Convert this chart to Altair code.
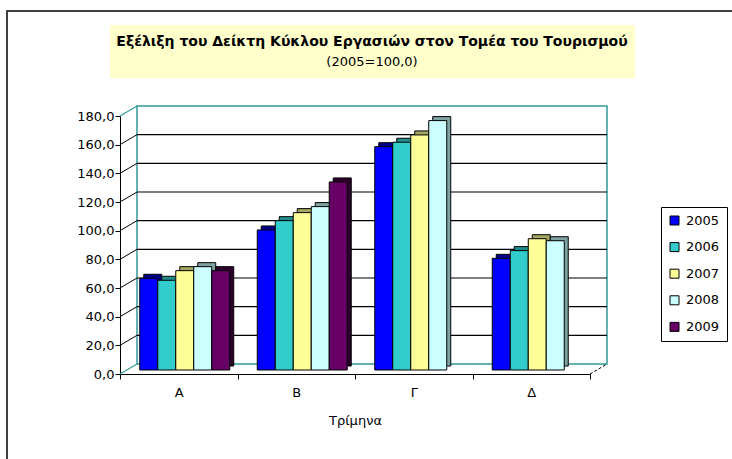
import altair as alt
import pandas as pd

quarters = ["Α", "Β", "Γ", "Δ"]
years = ["2005", "2006", "2007", "2008", "2009"]
v2005 = [64.0, 97.7, 155.8, 77.9]
v2006 = [62.6, 104.2, 158.9, 83.3]
v2007 = [69.3, 109.8, 164.0, 91.6]
v2008 = [72.1, 114.0, 174.0, 90.2]
v2009 = [69.3, 131.2, None, None]
y_ticks = [0, 20, 40, 60, 80, 100, 120, 140, 160, 180]

front_colors = ["#0000FF", "#33CCCC", "#FFFF99", "#CCFFFF", "#660066"]
shade_colors = ["#00008C", "#228C8C", "#A6A663", "#7FA3A3", "#2E002E"]

title1 = "Εξέλιξη του Δείκτη Κύκλου Εργασιών στον Τομέα του Τουρισμού"
title2 = "(2005=100,0)"
x_title = "Τρίμηνα"

FONT = "DejaVu Sans"
W, H = 470, 258
DX, DY = 17, -10
TEAL = "#339999"

rows = []
for yr, vals in zip(years, [v2005, v2006, v2007, v2008, v2009]):
    for q, v in zip(quarters, vals):
        if v is not None:
            rows.append({"q": q, "year": yr, "value": v})
df = pd.DataFrame(rows)
ticks_df = pd.DataFrame({"v": y_ticks})
one = alt.Data(values=[{"a": 1}])

# outer border
border = alt.Chart(one).mark_rect(fillOpacity=0, stroke="#404040", strokeWidth=2).encode(
    x=alt.value(-113), x2=alt.value(700), y=alt.value(-105), y2=alt.value(400))

# title box & text
tbox = alt.Chart(one).mark_rect(fill="#FFFFCC").encode(
    x=alt.value(-10), x2=alt.value(515), y=alt.value(-91), y2=alt.value(-38))
t1 = alt.Chart(one).mark_text(text=title1, font=FONT, fontWeight="bold", fontSize=14,
                              align="center", baseline="alphabetic", color="black").encode(
    x=alt.value(252), y=alt.value(-70))
t2 = alt.Chart(one).mark_text(text=title2, font=FONT, fontSize=13,
                              align="center", baseline="alphabetic", color="black").encode(
    x=alt.value(252), y=alt.value(-50))

yscale = alt.Scale(domain=[0, 180], range=[H, 0])

# back wall
wall = alt.Chart(one).mark_rect(fillOpacity=0, stroke=TEAL, strokeWidth=1.5).encode(
    x=alt.value(DX), x2=alt.value(W + DX), y=alt.value(DY), y2=alt.value(H + DY))

# gridlines on the back wall (with y axis)
grid_df = ticks_df[(ticks_df.v > 0) & (ticks_df.v < 180)]
grid = alt.Chart(grid_df).mark_rule(color="black", strokeWidth=1.2, yOffset=DY, y2Offset=DY).encode(
    x=alt.value(DX), x2=alt.value(W + DX),
    y=alt.Y("v:Q", scale=yscale,
            axis=alt.Axis(values=y_ticks, title=None, grid=False, tickSize=5,
                          domainColor="black", tickColor="black", labelColor="black",
                          labelFont=FONT, labelFontSize=13, labelPadding=1,
                          labelExpr="replace(format(datum.value, '.1f'), '.', ',')")),
    y2="v:Q")

diag_black = alt.Chart(grid_df).mark_rule(color="black", strokeWidth=1, y2Offset=DY).encode(
    x=alt.value(0), x2=alt.value(DX),
    y=alt.Y("v:Q", scale=yscale, axis=None), y2="v:Q")
diag_teal = alt.Chart(ticks_df[(ticks_df.v == 0) | (ticks_df.v == 180)]).mark_rule(
    color=TEAL, strokeWidth=1.2, y2Offset=DY).encode(
    x=alt.value(0), x2=alt.value(DX),
    y=alt.Y("v:Q", scale=yscale, axis=None), y2="v:Q")
diag_right = alt.Chart(one).mark_rule(color="black", strokeWidth=1, strokeDash=[3, 2]).encode(
    x=alt.value(W), x2=alt.value(W + DX), y=alt.value(H), y2=alt.value(H + DY))

# x axis layer
axis_layer = alt.Chart(pd.DataFrame({"q": quarters})).mark_point(opacity=0).encode(
    x=alt.X("q:N", sort=quarters,
            scale=alt.Scale(domain=quarters, range=[0, W], paddingInner=0, paddingOuter=0),
            axis=alt.Axis(title=x_title, tickBand="extent", tickSize=5, labelAngle=0,
                          domainColor="black", tickColor="black", labelColor="black",
                          labelFont=FONT, labelFontSize=13, labelPadding=7,
                          titleFont=FONT, titleFontSize=13, titleFontWeight="normal",
                          titleColor="black", titlePadding=15)),
    y=alt.value(H))


def bars(xr, yr, colors, legend):
    return alt.Chart(df).mark_bar(stroke="black", strokeWidth=1, opacity=1).encode(
        x=alt.X("q:N", sort=quarters,
                scale=alt.Scale(domain=quarters, range=xr, paddingInner=0, paddingOuter=0),
                axis=None),
        xOffset=alt.XOffset("year:N", scale=alt.Scale(domain=years, paddingInner=0, paddingOuter=0.764)),
        y=alt.Y("value:Q", scale=alt.Scale(domain=[0, 180], range=yr), axis=None),
        color=alt.Color("year:N", scale=alt.Scale(domain=years, range=colors), legend=legend),
    )


legend = alt.Legend(title=None, orient="none", legendX=541, legendY=91,
                    strokeColor="black", fillColor="white", padding=7,
                    symbolType="square", symbolSize=81, symbolStrokeColor="black",
                    symbolStrokeWidth=1, symbolOpacity=1, labelFont=FONT, labelFontSize=13,
                    labelColor="black", rowPadding=12.6, labelOffset=5)

shade = bars([10, W + 10], [H - 8, -8], shade_colors, None)
front = bars([6, W + 6], [H - 4, -4], front_colors, legend)

chart = alt.layer(
    border, tbox, t1, t2, wall, grid, diag_black, diag_teal, diag_right, axis_layer, shade, front
).resolve_scale(
    x="independent", y="independent", color="independent", xOffset="independent"
).properties(
    width=W, height=H,
    autosize=alt.AutoSizeParams(type="none"),
    padding={"left": 120, "top": 116, "right": 142, "bottom": 85},
    background="white",
).configure_view(stroke=None)

chart.save("out.html", embed_options={"renderer": "svg", "actions": False})
